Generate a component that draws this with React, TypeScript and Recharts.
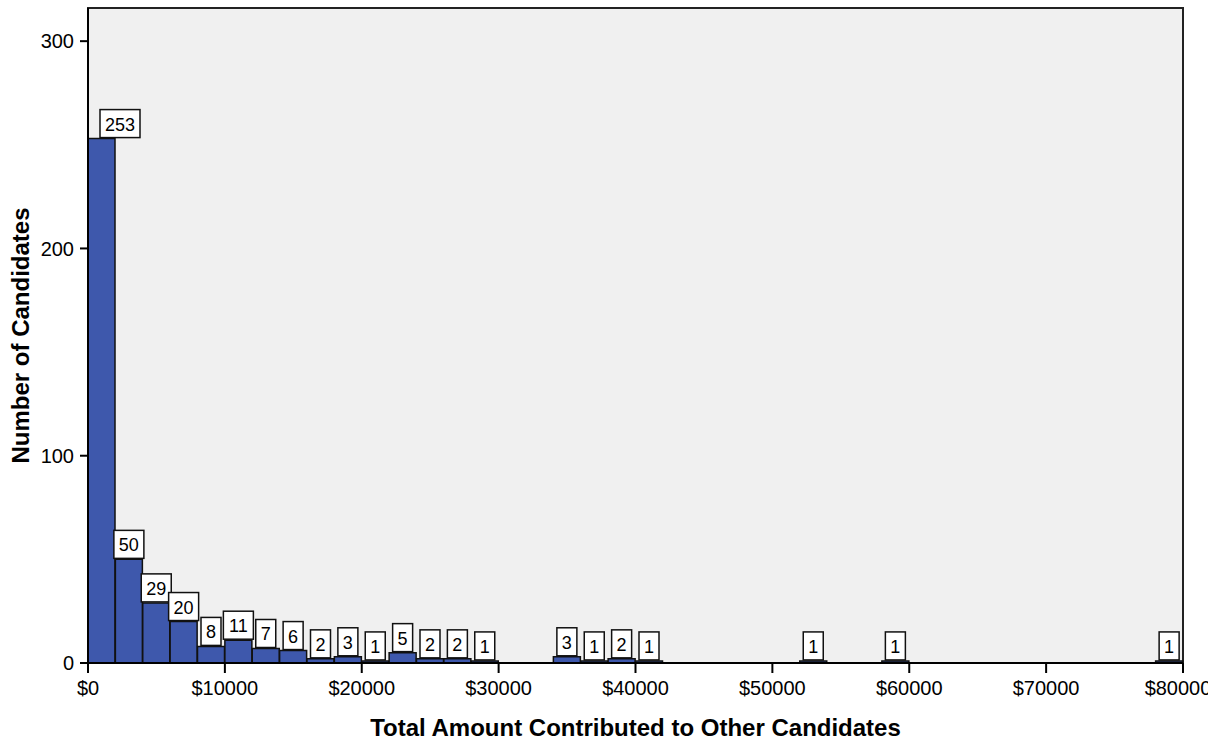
import { BarChart, Bar, XAxis, YAxis, CartesianGrid, ReferenceArea, LabelList } from 'recharts';

// histogram bins, $2000 wide
const binStarts = [
  0, 2000, 4000, 6000, 8000, 10000, 12000, 14000, 16000, 18000,
  20000, 22000, 24000, 26000, 28000, 30000, 32000, 34000, 36000, 38000,
  40000, 42000, 44000, 46000, 48000, 50000, 52000, 54000, 56000, 58000,
  60000, 62000, 64000, 66000, 68000, 70000, 72000, 74000, 76000, 78000,
];
const counts = [
  253, 50, 29, 20, 8, 11, 7, 6, 2, 3,
  1, 5, 2, 2, 1, 0, 0, 3, 1, 2,
  1, 0, 0, 0, 0, 0, 1, 0, 0, 1,
  0, 0, 0, 0, 0, 0, 0, 0, 0, 1,
];
const xTicks = [0, 10000, 20000, 30000, 40000, 50000, 60000, 70000, 80000];
const yTicks = [0, 100, 200, 300];

const data = binStarts.map((start, i) => ({ start, count: counts[i] }));

const FONT = '"Liberation Sans", Arial, sans-serif';
const PLOT_LEFT = 88;

const CountLabel = (props: any) => {
  const { x, y, width, value } = props;
  if (!value) return null;
  const w = String(value).length * 10 + 10;
  const h = 28;
  let bx = x + width / 2 - w / 2;
  if (bx < PLOT_LEFT + 12) bx = PLOT_LEFT + 12;
  const by = y - h - 1;
  return (
    <g>
      <rect x={bx} y={by} width={w} height={h} fill="#fff" stroke="#111" strokeWidth={1.5} />
      <text x={bx + w / 2} y={by + 21} textAnchor="middle" fontSize={18} fontFamily={FONT} fill="#000">
        {value}
      </text>
    </g>
  );
};

export default function App() {
  return (
    <div style={{ position: 'absolute', left: 0, top: 0, width: 1220, height: 740, background: '#fff' }}>
      <BarChart width={1208} height={740} data={data} margin={{ top: 8, right: 25, left: 0, bottom: 0 }} barCategoryGap={0}>
        <CartesianGrid xAxisId="val" horizontal={false} vertical={false} fill="#F0F0F0" />
        <XAxis
          xAxisId="val"
          dataKey="start"
          type="number"
          domain={[0, 80000]}
          ticks={xTicks}
          allowDataOverflow
          height={77}
          tickFormatter={(v) => `$${v}`}
          tick={{ fill: '#000', fontSize: 20, fontFamily: FONT }}
          tickSize={10}
          tickMargin={8}
          axisLine={{ stroke: '#000', strokeWidth: 2 }}
          tickLine={{ stroke: '#000', strokeWidth: 2 }}
          label={{
            value: 'Total Amount Contributed to Other Candidates',
            position: 'insideBottom',
            offset: 4,
            style: { fontSize: 24, fontWeight: 'bold', fontFamily: FONT, fill: '#000' },
          }}
        />
        <XAxis xAxisId="bins" dataKey="start" hide height={0} />
        <YAxis
          type="number"
          domain={[0, 316]}
          ticks={yTicks}
          allowDataOverflow
          width={88}
          tick={{ fill: '#000', fontSize: 20, fontFamily: FONT }}
          tickSize={8}
          tickMargin={6}
          axisLine={{ stroke: '#000', strokeWidth: 2 }}
          tickLine={{ stroke: '#000', strokeWidth: 2 }}
          label={{
            value: 'Number of Candidates',
            angle: -90,
            position: 'insideLeft',
            offset: 20,
            style: { textAnchor: 'middle', fontSize: 24, fontWeight: 'bold', fontFamily: FONT, fill: '#000' },
          }}
        />
        <ReferenceArea xAxisId="val" x1={0} x2={80000} y1={0} y2={316} fill="none" stroke="#222" strokeWidth={2} />
        <Bar xAxisId="bins" dataKey="count" fill="#3E58AC" stroke="#111" strokeWidth={1.5} isAnimationActive={false}>
          <LabelList dataKey="count" content={CountLabel} />
        </Bar>
      </BarChart>
    </div>
  );
}
